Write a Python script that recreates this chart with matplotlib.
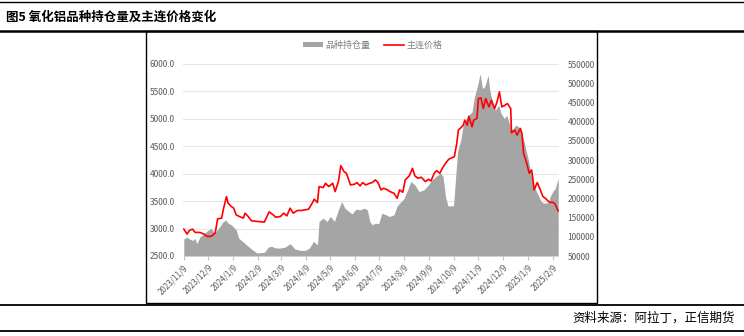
import numpy as np
import pandas as pd
import matplotlib; matplotlib.use("Agg")
import matplotlib.pyplot as plt
from matplotlib.lines import Line2D
from matplotlib.patches import Patch, Rectangle

plt.rcParams["font.family"] = ["Noto Sans CJK SC", "DejaVu Sans"]

title = "图5 氧化铝品种持仓量及主连价格变化"
source = "资料来源：阿拉丁，正信期货"

# 主连价格 (left axis)
price_dates = [
    "2023-11-09", "2023-11-13", "2023-11-16", "2023-11-20", "2023-11-23", "2023-11-29", "2023-12-04", "2023-12-08", "2023-12-13", "2023-12-18",
    "2023-12-21", "2023-12-26", "2023-12-28", "2024-01-01", "2024-01-03", "2024-01-07", "2024-01-10", "2024-01-13", "2024-01-17", "2024-01-22",
    "2024-01-24", "2024-01-28", "2024-02-01", "2024-02-08", "2024-02-17", "2024-02-23", "2024-02-28", "2024-03-02", "2024-03-08", "2024-03-12",
    "2024-03-16", "2024-03-20", "2024-03-24", "2024-03-29", "2024-04-03", "2024-04-08", "2024-04-12", "2024-04-16", "2024-04-19", "2024-04-23",
    "2024-04-25", "2024-04-30", "2024-05-03", "2024-05-07", "2024-05-12", "2024-05-15", "2024-05-19", "2024-05-22", "2024-05-26", "2024-05-29",
    "2024-06-03", "2024-06-08", "2024-06-11", "2024-06-15", "2024-06-18", "2024-06-22", "2024-06-27", "2024-06-30", "2024-07-04", "2024-07-07",
    "2024-07-11", "2024-07-14", "2024-07-19", "2024-07-22", "2024-07-27", "2024-07-31", "2024-08-03", "2024-08-07", "2024-08-10", "2024-08-15",
    "2024-08-19", "2024-08-22", "2024-08-26", "2024-08-30", "2024-09-04", "2024-09-08", "2024-09-11", "2024-09-15", "2024-09-18", "2024-09-22",
    "2024-09-25", "2024-09-29", "2024-10-03", "2024-10-07", "2024-10-10", "2024-10-13", "2024-10-15", "2024-10-18", "2024-10-21", "2024-10-23",
    "2024-10-26", "2024-10-28", "2024-11-01", "2024-11-03", "2024-11-07", "2024-11-09", "2024-11-12", "2024-11-15", "2024-11-18", "2024-11-22",
    "2024-11-25", "2024-11-29", "2024-12-02", "2024-12-05", "2024-12-08", "2024-12-12", "2024-12-15", "2024-12-19", "2024-12-20", "2024-12-24",
    "2024-12-27", "2024-12-31", "2025-01-02", "2025-01-04", "2025-01-08", "2025-01-11", "2025-01-14", "2025-01-16", "2025-01-17", "2025-01-21",
    "2025-01-24", "2025-01-28", "2025-01-31", "2025-02-05", "2025-02-10", "2025-02-12", "2025-02-16",
]
price = [
    2990, 2900, 2966, 2990, 2930, 2930, 2900, 2857, 2857, 2918,
    3178, 3190, 3342, 3584, 3463, 3402, 3372, 3250, 3220, 3190,
    3281, 3220, 3142, 3130, 3118, 3305, 3250, 3208, 3220, 3281,
    3232, 3372, 3281, 3330, 3330, 3342, 3354, 3451, 3535, 3475,
    3766, 3747, 3826, 3766, 3826, 3674, 3857, 4147, 4038, 4008,
    3796, 3808, 3838, 3778, 3838, 3796, 3826, 3838, 3887, 3844,
    3705, 3735, 3705, 3674, 3644, 3553, 3705, 3662, 3887, 3960,
    4099, 3960, 3917, 3935, 3857, 3899, 3868, 4008, 4056, 4008,
    4099, 4189, 4262, 4292, 4310, 4553, 4795, 4837, 4885, 4976,
    4885, 5048, 4855, 4976, 5006, 5370, 5382, 5188, 5370, 5218,
    5339, 5188, 5309, 5491, 5218, 5249, 5279, 5188, 4746, 4795,
    4704, 4825, 4734, 4371, 4189, 4008, 4068, 3857, 3705, 3838,
    3735, 3584, 3553, 3481, 3475, 3451, 3323,
]

# 品种持仓量 (right axis)
oi_dates = [
    "2023-11-09", "2023-11-13", "2023-11-16", "2023-11-20", "2023-11-23", "2023-11-25", "2023-11-29", "2023-12-05", "2023-12-10", "2023-12-13",
    "2023-12-17", "2023-12-20", "2023-12-24", "2023-12-27", "2023-12-31", "2024-01-03", "2024-01-07", "2024-01-09", "2024-01-13", "2024-01-16",
    "2024-01-21", "2024-01-27", "2024-02-02", "2024-02-08", "2024-02-17", "2024-02-22", "2024-02-26", "2024-03-02", "2024-03-08", "2024-03-14",
    "2024-03-20", "2024-03-26", "2024-04-02", "2024-04-08", "2024-04-13", "2024-04-18", "2024-04-23", "2024-04-25", "2024-04-30", "2024-05-05",
    "2024-05-09", "2024-05-14", "2024-05-19", "2024-05-23", "2024-05-27", "2024-06-01", "2024-06-05", "2024-06-10", "2024-06-15", "2024-06-20",
    "2024-06-24", "2024-06-27", "2024-06-30", "2024-07-04", "2024-07-08", "2024-07-12", "2024-07-17", "2024-07-21", "2024-07-27", "2024-07-31",
    "2024-08-03", "2024-08-08", "2024-08-13", "2024-08-17", "2024-08-22", "2024-08-27", "2024-09-02", "2024-09-08", "2024-09-12", "2024-09-18",
    "2024-09-23", "2024-09-26", "2024-09-29", "2024-10-02", "2024-10-09", "2024-10-12", "2024-10-14", "2024-10-18", "2024-10-21", "2024-10-25",
    "2024-10-28", "2024-11-01", "2024-11-04", "2024-11-08", "2024-11-11", "2024-11-14", "2024-11-17", "2024-11-21", "2024-11-23", "2024-11-27",
    "2024-11-30", "2024-12-04", "2024-12-07", "2024-12-11", "2024-12-14", "2024-12-18", "2024-12-21", "2024-12-25", "2024-12-29", "2025-01-02",
    "2025-01-06", "2025-01-10", "2025-01-13", "2025-01-16", "2025-01-21", "2025-01-26", "2025-01-29", "2025-02-04", "2025-02-06", "2025-02-10",
    "2025-02-12", "2025-02-16",
]
open_interest = [
    94100, 99300, 94100, 90700, 95800, 82000, 99300, 109700, 118300, 121800,
    109700, 116600, 127000, 137400, 144300, 135600, 131300, 127000, 118300, 96700,
    88100, 76800, 66400, 57800, 59500, 73400, 75100, 70800, 70800, 73400,
    82000, 68200, 64700, 64700, 70800, 88100, 79400, 140000, 148600, 140000,
    152900, 140000, 170200, 191800, 174600, 165900, 159900, 172000, 170200, 174600,
    170200, 140000, 131300, 135600, 133900, 161600, 157300, 152900, 157300, 180600,
    187500, 197900, 222100, 243800, 235100, 217800, 222100, 235100, 248100, 258500,
    265400, 256700, 204800, 180600, 180600, 265400, 321600, 351900, 390800, 408100,
    416800, 425400, 464400, 494700, 525000, 486000, 492100, 520700, 481700, 447100,
    429800, 442800, 421100, 408100, 416800, 390800, 377900, 390800, 386500, 369200,
    334600, 300000, 265400, 235100, 213500, 191900, 187500, 189300, 204800, 220400,
    223900, 252400,
]

tick_dates = pd.date_range("2023-11-01", "2025-02-01", freq="MS") + pd.Timedelta(days=8)
tick_labels = [f"{d.year}/{d.month}/{d.day}" for d in tick_dates]

W, H = 744, 336
fig = plt.figure(figsize=(W / 100, H / 100), dpi=100)
fig.patch.set_facecolor("white")

ax = fig.add_axes([183 / W, 1 - 256 / H, 376 / W, 192 / H])
ax2 = ax.twinx()
ax.set_zorder(ax2.get_zorder() + 1); ax.patch.set_visible(False)

px = pd.to_datetime(price_dates); ox = pd.to_datetime(oi_dates)
ax2.fill_between(ox, open_interest, 50000, color="#a5a5a5", lw=0)
ax.plot(px, price, color="#ff0000", lw=1.2)

ax.set_ylim(2500, 6000); ax2.set_ylim(50000, 550000)
ax.set_yticks(np.arange(2500, 6001, 500)); ax2.set_yticks(np.arange(50000, 550001, 50000))
ax.set_yticklabels([f"{v:.1f}" for v in np.arange(2500, 6001, 500)])
ax2.set_yticklabels([f"{v}" for v in np.arange(50000, 550001, 50000)])
ax.set_xlim(pd.Timestamp("2023-11-08"), pd.Timestamp("2025-02-17"))
ax.set_xticks(tick_dates); ax.set_xticklabels(tick_labels, rotation=45, ha="right", rotation_mode="anchor")
ax2.grid(False)
for v in np.arange(2500, 6001, 500):
    ax2.axhline(50000 + (v - 2500) / 3500 * 500000, color="#e6e6e6", lw=0.8, zorder=0)

for a in (ax, ax2):
    for s in ("top", "left", "right", "bottom"): a.spines[s].set_visible(False)
ax2.axhline(50000, color="#d9d9d9", lw=0.8, zorder=3)
ax.tick_params(axis="y", length=0, labelsize=6, labelcolor="#595959", pad=6)
ax2.tick_params(axis="y", length=0, labelsize=6, labelcolor="#595959", pad=6)
ax.tick_params(axis="x", length=3, color="#bfbfbf", labelsize=5.8, labelcolor="#595959", pad=2)

handles = [Patch(facecolor="#a5a5a5", edgecolor="none"), Line2D([], [], color="#ff0000", lw=1.2)]
fig.legend(handles, ["品种持仓量", "主连价格"], loc="center", bbox_to_anchor=(373 / W, 1 - 45 / H),
           ncol=2, frameon=False, fontsize=6.5, labelcolor="#7f7f7f", handlelength=2.2, handleheight=0.6,
           columnspacing=1.5, handletextpad=0.3)

# frame and rules
fig.add_artist(Rectangle((146 / W, 1 - 303 / H), 451 / W, 272 / H, transform=fig.transFigure,
                         fill=False, ec="black", lw=1.0))
for y, lw in ((2, 1.0), (31, 1.8), (305, 1.3), (331, 1.3)):
    fig.add_artist(Line2D([0, 1], [1 - y / H, 1 - y / H], transform=fig.transFigure, color="black", lw=lw))

fig.text(6 / W, 1 - 17 / H, title, fontsize=9, fontweight="bold", va="center", ha="left")
fig.text(735 / W, 1 - 318 / H, source, fontsize=9, va="center", ha="right")

fig.savefig("out.png", dpi=100)
